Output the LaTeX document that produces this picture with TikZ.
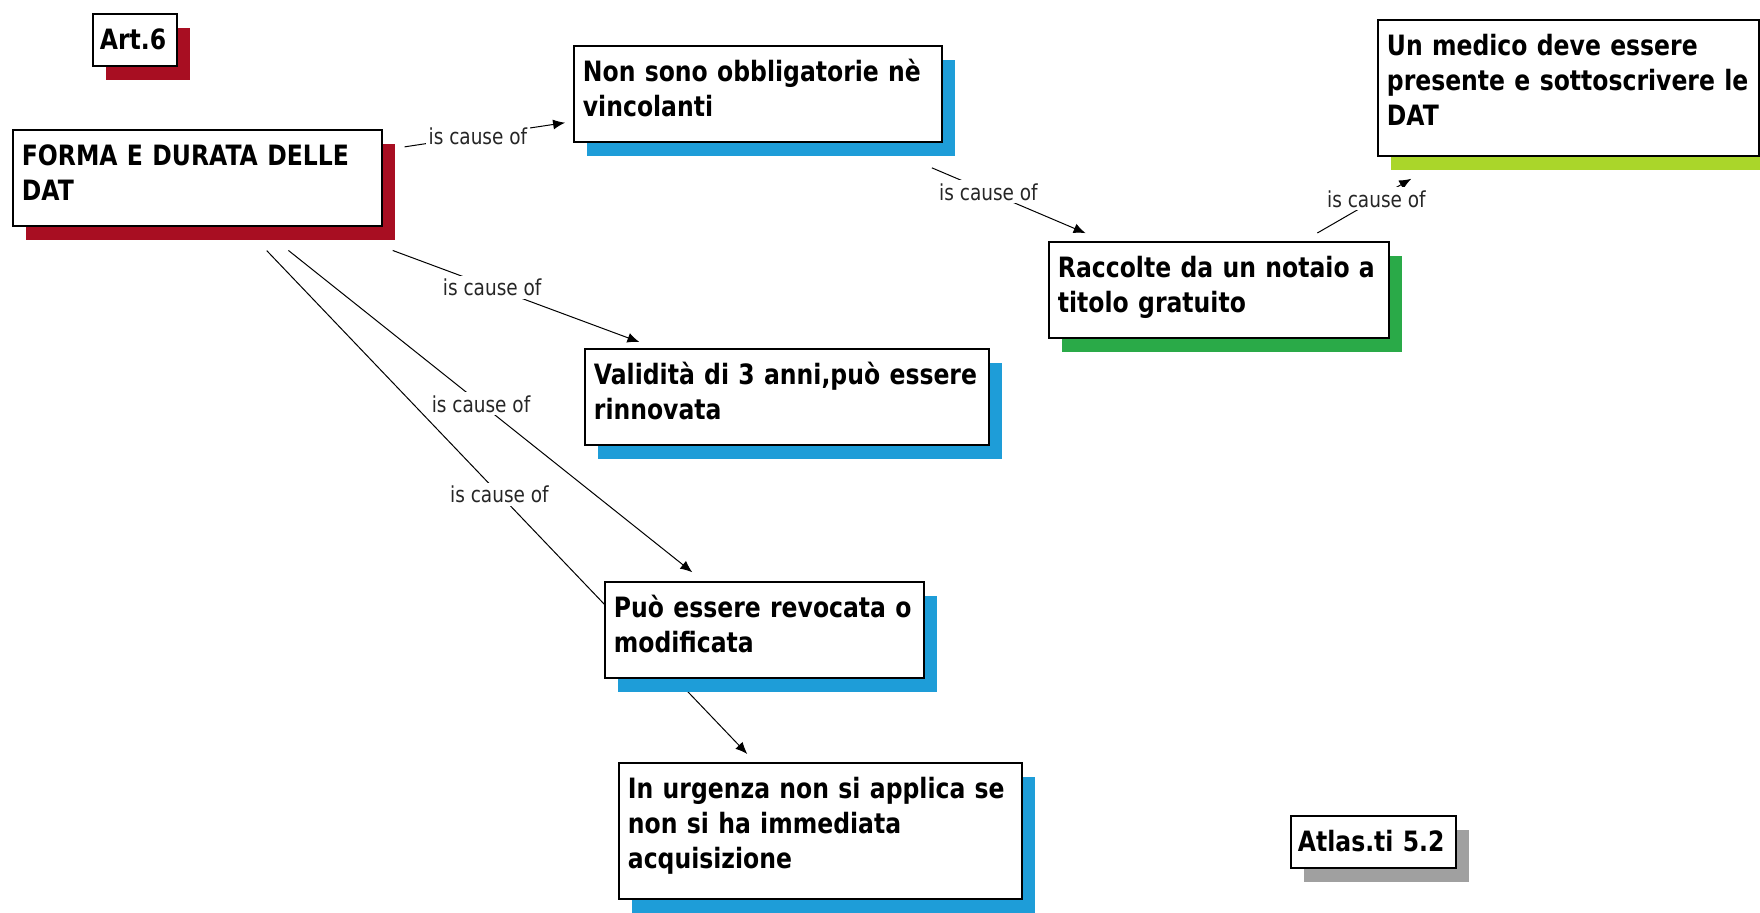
\documentclass[tikz,border=0pt]{standalone}
\usepackage{fontspec}
\setmainfont{DejaVu Sans}[FakeStretch=0.84]
\usepackage{tikz}
\usetikzlibrary{shadows,backgrounds,arrows.meta,positioning}
\definecolor{codered}{RGB}{168,14,34}
\definecolor{codeblue}{RGB}{30,157,216}
\definecolor{codegreen}{RGB}{42,170,72}
\definecolor{codelime}{RGB}{170,214,42}
\definecolor{codegray}{RGB}{160,160,160}
\tikzstyle{every shadow}=[opacity=1,shadow xshift=6.5pt,shadow yshift=-7pt]
\tikzstyle{every edge}=[draw,line width=0.5pt,-{Latex[length=6pt,width=5pt]}]
\tikzstyle{code}=[draw,line width=0.9pt,fill=white,anchor=north west,align=left,
  inner xsep=4.5pt,inner ysep=0pt,text height=18pt,
  font=\bfseries\fontsize{14}{17.5}\selectfont]
\tikzstyle{oneline}=[text depth=8pt]
\tikzstyle{twolines}=[text depth=30pt]
\tikzstyle{threelines}=[text depth=50pt]
\tikzstyle{rel}=[fill=white,inner sep=1.5pt,text=black!85,font=\fontsize{11}{12}\selectfont]

\begin{document}
\begin{tikzpicture}[x=0.5pt,y=-0.5pt]
  \useasboundingbox (0,0) rectangle (1760,913);

  %% codes
  \node[code,oneline,inner xsep=3.5pt,text width=35pt,drop shadow={fill=codered}] (art) at (92,13) {Art.6};
  \node[code,twolines,text width=175.5pt,drop shadow={fill=codered}] (forma) at (12,129) {FORMA E DURATA DELLE\\DAT};
  \node[code,twolines,text width=175pt,drop shadow={fill=codeblue}] (nonsono) at (573,45) {Non sono obbligatorie nè\\vincolanti};
  \node[code,threelines,text width=181.5pt,drop shadow={fill=codelime}] (medico) at (1377,19) {Un medico deve essere\\presente e sottoscrivere le\\DAT};
  \node[code,twolines,text width=161pt,drop shadow={fill=codegreen}] (raccolte) at (1048,241) {Raccolte da un notaio a\\titolo gratuito};
  \node[code,twolines,text width=193pt,drop shadow={fill=codeblue}] (validita) at (584,348) {Validità di 3 anni,può essere\\rinnovata};
  \node[code,twolines,text width=150.5pt,drop shadow={fill=codeblue}] (puo) at (604,581) {Può essere revocata o\\modificata};
  \node[code,threelines,text width=192.5pt,drop shadow={fill=codeblue}] (urgenza) at (618,762) {In urgenza non si applica se\\non si ha immediata\\acquisizione};
  \node[code,oneline,inner xsep=3.5pt,text width=75.5pt,drop shadow={fill=codegray}] (atlas) at (1290,815) {Atlas.ti 5.2};

  %% relazioni
  \begin{scope}[on background layer]
    \path (forma) edge[shorten <=11pt,shorten >=4pt] node[rel] {is cause of} (nonsono)
    (nonsono) edge[shorten <=32pt,shorten >=10pt] node[rel] {is cause of} (raccolte)
    (raccolte) edge[shorten <=8pt,shorten >=22pt] node[rel] {is cause of} (medico)
    (forma) edge[shorten <=34pt,shorten >=8.5pt] node[rel] {is cause of} (validita)
    (forma) edge[shorten <=19pt,shorten >=7pt] node[rel] {is cause of} (puo)
    (forma) edge[shorten <=16.5pt,shorten >=5.5pt] node[rel] {is cause of} (urgenza);
  \end{scope}
\end{tikzpicture}
\end{document}
